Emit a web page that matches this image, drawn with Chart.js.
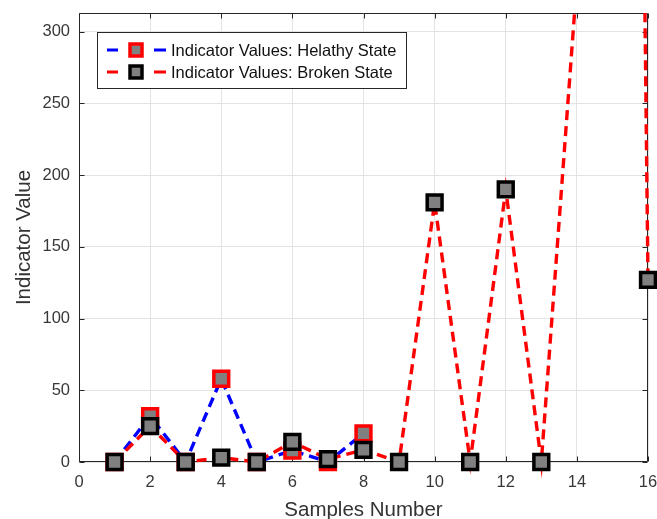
<!DOCTYPE html>
<html>
<head>
<meta charset="utf-8">
<script src="https://cdn.jsdelivr.net/npm/chart.js@4.4.1/dist/chart.umd.min.js"></script>
<style>
  html, body { margin: 0; padding: 0; background: #fff; }
  #chart { display: block; }
</style>
</head>
<body>
<canvas id="chart" width="657" height="519"></canvas>
<script>
// values
const sampleNumbers = [1, 2, 3, 4, 5, 6, 7, 8, 9, 10, 11, 12, 13, 14, 15, 16];
const healthyValues = [0, 32, 0, 58, 0, 8, 0, 20];
const brokenValues = [0, 25, 0, 3, 0, 14, 2, 8.5, 0, 181, 0, 190, 0, 335, 2300, 127];
const xTicks = [0, 2, 4, 6, 8, 10, 12, 14, 16];
const yTicks = [0, 50, 100, 150, 200, 250, 300];
const seriesLabels = ['Indicator Values: Helathy State', 'Indicator Values: Broken State'];

const axisColor = '#262626';
const fontFamily = "'Liberation Sans', Arial, sans-serif";

function toPoints(values) {
    return values.map((v, i) => ({x: sampleNumbers[i], y: v}));
}

// box around the axes with inward ticks, like the original plot
const framePlugin = {
    id: 'frame',
    beforeDatasetsDraw(chart) {
        const {ctx, chartArea: a, scales} = chart;
        const L = Math.round(a.left) + 0.5, R = Math.round(a.right) - 0.5;
        const T = Math.round(a.top) + 0.5, B = Math.round(a.bottom) - 0.5;
        ctx.save();
        ctx.strokeStyle = axisColor;
        ctx.lineWidth = 1;
        ctx.beginPath();
        ctx.rect(L, T, R - L, B - T);
        xTicks.forEach(v => {
            const px = Math.round(scales.x.getPixelForValue(v)) + 0.5;
            ctx.moveTo(px, B); ctx.lineTo(px, B - 5);
            ctx.moveTo(px, T); ctx.lineTo(px, T + 5);
        });
        yTicks.forEach(v => {
            const py = Math.round(scales.y.getPixelForValue(v)) + 0.5;
            ctx.moveTo(L, py); ctx.lineTo(L + 5, py);
            ctx.moveTo(R, py); ctx.lineTo(R - 5, py);
        });
        ctx.stroke();
        ctx.restore();
    }
};

// legend box in the top left corner of the axes
const legendBoxPlugin = {
    id: 'legendBox',
    afterDatasetsDraw(chart) {
        const ctx = chart.ctx;
        const box = {x: 97, y: 32, w: 309, h: 56};
        const rows = [50, 72];
        ctx.save();
        ctx.fillStyle = '#fff';
        ctx.fillRect(box.x, box.y, box.w, box.h);
        ctx.strokeStyle = axisColor;
        ctx.lineWidth = 1;
        ctx.strokeRect(box.x + 0.5, box.y + 0.5, box.w, box.h);
        [0, 1].forEach(i => {
            const ds = chart.data.datasets.find(d => d.label === seriesLabels[i]);
            const y = rows[i];
            ctx.setLineDash([]);
            ctx.strokeStyle = ds.borderColor;
            ctx.lineWidth = 3;
            ctx.beginPath();
            ctx.moveTo(107, y); ctx.lineTo(118, y);
            ctx.moveTo(154, y); ctx.lineTo(166, y);
            ctx.stroke();
            ctx.fillStyle = ds.pointBackgroundColor;
            ctx.strokeStyle = ds.pointBorderColor;
            ctx.lineWidth = 3.5;
            ctx.fillRect(130, y - 6, 12, 12);
            ctx.strokeRect(130, y - 6, 12, 12);
            ctx.fillStyle = '#111';
            ctx.font = '16.5px ' + fontFamily;
            ctx.textBaseline = 'middle';
            ctx.fillText(ds.label, 171, y + 1);
        });
        ctx.restore();
    }
};

function noPadding(s) {
    s.paddingLeft = 0; s.paddingRight = 0;
    s.paddingTop = 0; s.paddingBottom = 0;
}

new Chart('chart', {
    type: 'line',
    data: {
        datasets: [{
            label: seriesLabels[1],
            data: toPoints(brokenValues),
            order: 0,
            borderColor: '#ff0000',
            borderWidth: 3.4,
            borderDash: [10, 6],
            pointStyle: 'rect',
            pointRadius: 10.5,
            pointBorderWidth: 3.5,
            pointBorderColor: '#000000',
            pointBackgroundColor: '#808080',
            clip: {left: 20, right: 20, top: 0, bottom: 20}
        }, {
            label: seriesLabels[0],
            data: toPoints(healthyValues),
            order: 1,
            borderColor: '#0000ff',
            borderWidth: 3.4,
            borderDash: [10, 6],
            pointStyle: 'rect',
            pointRadius: 10.5,
            pointBorderWidth: 3.5,
            pointBorderColor: '#ff0000',
            pointBackgroundColor: '#808080',
            clip: {left: 20, right: 20, top: 0, bottom: 20}
        }]
    },
    options: {
        responsive: false,
        animation: false,
        devicePixelRatio: 1,
        layout: {autoPadding: false, padding: {top: 13, right: 9, left: 0, bottom: 0}},
        elements: {line: {tension: 0}},
        plugins: {
            legend: {display: false},
            tooltip: {enabled: false}
        },
        scales: {
            x: {
                type: 'linear',
                min: 0,
                max: 16,
                afterBuildTicks: s => { s.ticks = xTicks.map(v => ({value: v})); },
                afterFit: s => { s.height = 57; noPadding(s); },
                grid: {color: '#e3e3e3', drawTicks: false},
                border: {display: false},
                ticks: {color: '#383838', padding: 11, font: {size: 16.5, family: fontFamily}},
                title: {
                    display: true,
                    text: 'Samples Number',
                    color: '#333',
                    font: {size: 20.5, family: fontFamily, lineHeight: 1},
                    padding: {top: 0, bottom: -1.25}
                }
            },
            y: {
                min: 0,
                max: 313,
                afterBuildTicks: s => { s.ticks = yTicks.map(v => ({value: v})); },
                afterFit: s => { s.width = 79; noPadding(s); },
                grid: {color: '#e3e3e3', drawTicks: false},
                border: {display: false},
                ticks: {color: '#383838', padding: 9, font: {size: 16.5, family: fontFamily}},
                title: {
                    display: true,
                    text: 'Indicator Value',
                    color: '#333',
                    font: {size: 20.5, family: fontFamily, lineHeight: 1},
                    padding: {top: 14.25, bottom: 0}
                }
            }
        }
    },
    plugins: [framePlugin, legendBoxPlugin]
});
</script>
</body>
</html>
